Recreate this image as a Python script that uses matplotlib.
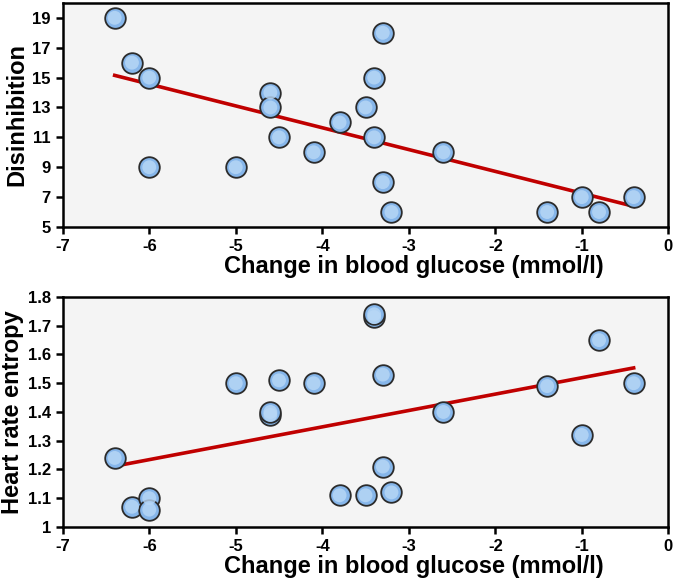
import numpy as np
import matplotlib.pyplot as plt

# Data
x_top = [-6.4, -6.2, -6.0, -6.0, -5.0, -4.6, -4.6, -4.5, -4.1, -3.8, -3.5,
         -3.4, -3.3, -3.4, -3.3, -3.2, -2.6, -1.4, -1.0, -0.8, -0.4]
disinhibition = [19, 16, 15, 9, 9, 14, 13, 11, 10, 12, 13,
                 15, 18, 11, 8, 6, 10, 6, 7, 6, 7]

x_bot = [-6.4, -6.2, -6.0, -6.0, -5.0, -4.6, -4.6, -4.5, -4.1, -3.8, -3.5,
         -3.4, -3.4, -3.3, -3.3, -3.2, -2.6, -1.4, -1.0, -0.8, -0.4]
hr_entropy = [1.24, 1.07, 1.10, 1.06, 1.50, 1.39, 1.40, 1.51, 1.50, 1.11, 1.11,
              1.73, 1.74, 1.53, 1.21, 1.12, 1.40, 1.49, 1.32, 1.65, 1.50]

xticks = [-7, -6, -5, -4, -3, -2, -1, 0]
yticks_top = [5, 7, 9, 11, 13, 15, 17, 19]
yticks_bot = [1, 1.1, 1.2, 1.3, 1.4, 1.5, 1.6, 1.7, 1.8]
xlabel = 'Change in blood glucose (mmol/l)'

plt.rcParams['font.family'] = ['Liberation Sans Narrow', 'Liberation Sans', 'DejaVu Sans']
plt.rcParams['font.weight'] = 'bold'

fig = plt.figure(figsize=(6.75, 5.79), dpi=100)
ax1 = fig.add_axes([0.093, 0.608, 0.897, 0.387])
ax2 = fig.add_axes([0.093, 0.090, 0.897, 0.397])


def draw(ax, x, y, ylim, yticks, ylab, yfmt):
    ax.set_facecolor('#f4f4f4')
    # fitted line
    m, b = np.polyfit(x, y, 1)
    xs = np.array([min(x), max(x)])
    ax.plot(xs, m * xs + b, color='#c00000', lw=2.6, zorder=2)
    # glossy bubbles
    ax.scatter(x, y, s=220, c='#86b6ea', edgecolors='#2b2b2b', linewidths=1.3, zorder=3)
    ax.scatter(x, y, s=100, c='#b9d8f6', edgecolors='none', zorder=4, alpha=0.8)
    ax.set_xlim(-7, 0)
    ax.set_ylim(*ylim)
    ax.set_xticks(xticks)
    ax.set_xticklabels([str(t) for t in xticks])
    ax.set_yticks(yticks)
    ax.set_yticklabels([yfmt(t) for t in yticks])
    for s in ax.spines.values():
        s.set_linewidth(1.8)
    ax.tick_params(axis='both', direction='out', length=5, width=1.8, labelsize=12)
    ax.set_xlabel(xlabel, fontsize=17, fontweight='bold', labelpad=1, x=0.58)
    ax.set_ylabel(ylab, fontsize=17, fontweight='bold', labelpad=3)


draw(ax1, x_top, disinhibition, (5, 20), yticks_top, 'Disinhibition', lambda t: str(t))
draw(ax2, x_bot, hr_entropy, (1, 1.8), yticks_bot, 'Heart rate entropy',
     lambda t: ('%g' % t))

fig.savefig('out.png', dpi=100)
